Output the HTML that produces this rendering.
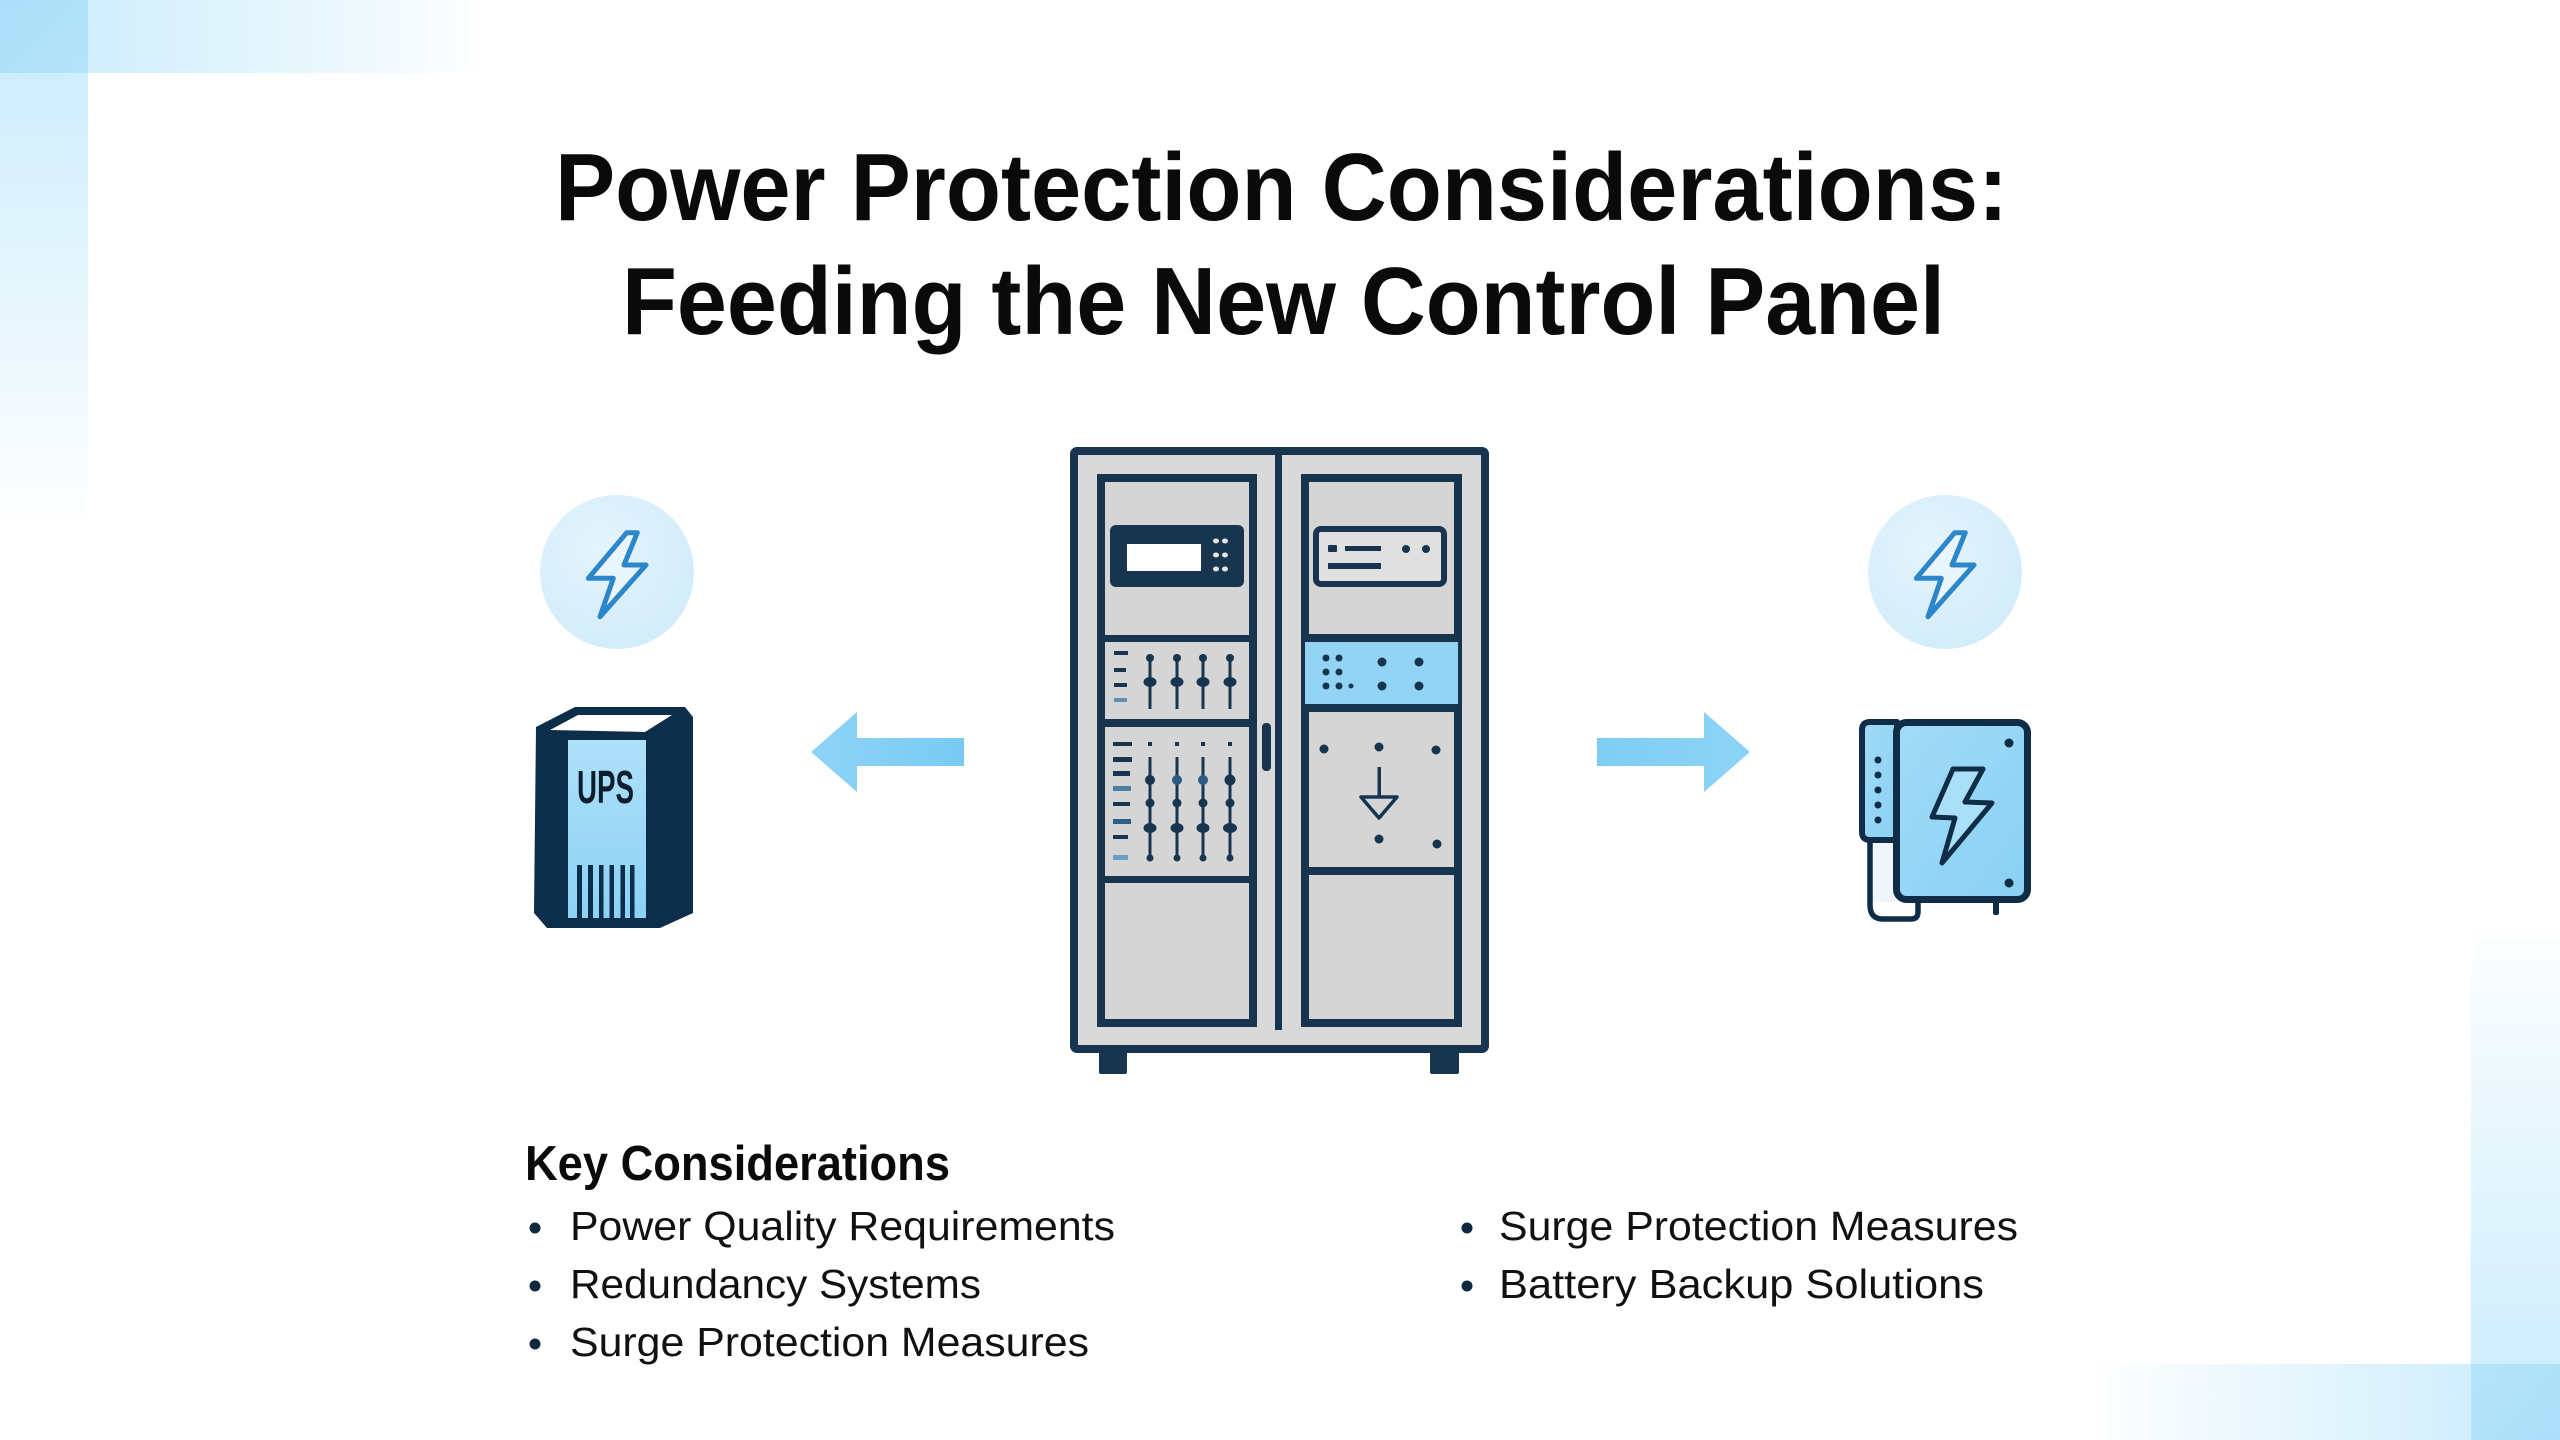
<!DOCTYPE html>
<html>
<head>
<meta charset="utf-8">
<style>
  html, body { margin: 0; padding: 0; background: #ffffff; }
  body { width: 2560px; height: 1440px; overflow: hidden; }
  svg { display: block; }
  .t { font-family: "Liberation Sans", "DejaVu Sans", sans-serif; }
</style>
</head>
<body>
<svg width="2560" height="1440" viewBox="0 0 2560 1440" xmlns="http://www.w3.org/2000/svg">
  <defs>
    <linearGradient id="tlH" x1="0" y1="0" x2="1" y2="0">
      <stop offset="0" stop-color="#8fd6f7" stop-opacity="0.5"/>
      <stop offset="0.6" stop-color="#8fd6f7" stop-opacity="0.22"/>
      <stop offset="1" stop-color="#8fd6f7" stop-opacity="0"/>
    </linearGradient>
    <linearGradient id="tlV" x1="0" y1="0" x2="0" y2="1">
      <stop offset="0" stop-color="#8fd6f7" stop-opacity="0.5"/>
      <stop offset="0.6" stop-color="#8fd6f7" stop-opacity="0.2"/>
      <stop offset="1" stop-color="#8fd6f7" stop-opacity="0"/>
    </linearGradient>
    <linearGradient id="brH" x1="1" y1="0" x2="0" y2="0">
      <stop offset="0" stop-color="#8fd6f7" stop-opacity="0.5"/>
      <stop offset="0.6" stop-color="#8fd6f7" stop-opacity="0.2"/>
      <stop offset="1" stop-color="#8fd6f7" stop-opacity="0"/>
    </linearGradient>
    <linearGradient id="brV" x1="0" y1="1" x2="0" y2="0">
      <stop offset="0" stop-color="#8fd6f7" stop-opacity="0.5"/>
      <stop offset="0.6" stop-color="#8fd6f7" stop-opacity="0.2"/>
      <stop offset="1" stop-color="#8fd6f7" stop-opacity="0"/>
    </linearGradient>
    <radialGradient id="circ" cx="0.4" cy="0.35" r="0.7">
      <stop offset="0" stop-color="#e4f4fd"/>
      <stop offset="1" stop-color="#d2ecfa"/>
    </radialGradient>
    <linearGradient id="upsStrip" x1="0" y1="0" x2="0" y2="1">
      <stop offset="0" stop-color="#aee0f8"/>
      <stop offset="1" stop-color="#8cd2f5"/>
    </linearGradient>
    <linearGradient id="devFill" x1="0" y1="0" x2="1" y2="1">
      <stop offset="0" stop-color="#a2dbf7"/>
      <stop offset="1" stop-color="#89d0f4"/>
    </linearGradient>
    <linearGradient id="arrL" x1="0" y1="0" x2="1" y2="0">
      <stop offset="0" stop-color="#8fd4f6"/>
      <stop offset="1" stop-color="#78caf3"/>
    </linearGradient>
    <linearGradient id="arrR" x1="0" y1="0" x2="1" y2="0">
      <stop offset="0" stop-color="#7fcdf4"/>
      <stop offset="1" stop-color="#8dd3f6"/>
    </linearGradient>
  </defs>

  <!-- background corner decorations -->
  <rect x="0" y="0" width="490" height="73" fill="url(#tlH)"/>
  <rect x="0" y="0" width="88" height="528" fill="url(#tlV)"/>
  <rect x="2087" y="1364" width="473" height="76" fill="url(#brH)"/>
  <rect x="2471" y="916" width="89" height="524" fill="url(#brV)"/>

  <!-- Title -->
  <text class="t" x="555" y="220" font-size="96" font-weight="bold" fill="#0a0a0a" textLength="1453" lengthAdjust="spacingAndGlyphs">Power Protection Considerations:</text>
  <text class="t" x="622" y="334" font-size="96" font-weight="bold" fill="#0a0a0a" textLength="1323" lengthAdjust="spacingAndGlyphs">Feeding the New Control Panel</text>

  <!-- Left circle + bolt -->
  <circle cx="617" cy="572" r="77" fill="url(#circ)"/>
  <path d="M626.7,532.7 L637.3,532.7 L624,565 L646,565 L600,616.7 L613.3,578.3 L588.3,578.3 Z" fill="#eaf6fd" stroke="#2b87c9" stroke-width="5" stroke-linejoin="round"/>

  <!-- Right circle + bolt -->
  <circle cx="1945" cy="572" r="77" fill="url(#circ)"/>
  <path transform="translate(1328,0)" d="M626.7,532.7 L637.3,532.7 L624,565 L646,565 L600,616.7 L613.3,578.3 L588.3,578.3 Z" fill="#eaf6fd" stroke="#2b87c9" stroke-width="5" stroke-linejoin="round"/>

  <!-- UPS -->
  <path d="M536,727 L575,707 L685,707 L693,717 L693,913 L660,928 L547,928 L534,913 Z" fill="#0c2e4b"/>
  <path d="M550,730 L578,715 L672,715 L645,732 Z" fill="#ffffff"/>
  <rect x="568" y="740" width="78" height="178" fill="url(#upsStrip)"/>
  <text class="t" x="577" y="803" font-size="46" font-weight="bold" fill="#0a1e30" textLength="57" lengthAdjust="spacingAndGlyphs">UPS</text>
  <g fill="#0c2e4b">
    <rect x="577" y="865" width="5" height="53"/>
    <rect x="588" y="865" width="5" height="53"/>
    <rect x="599" y="865" width="4.5" height="53"/>
    <rect x="609.5" y="865" width="4.5" height="53"/>
    <rect x="620.5" y="865" width="4.5" height="53"/>
    <rect x="630" y="865" width="4.5" height="53"/>
  </g>

  <!-- Arrows -->
  <polygon points="811,752 857,712 857,738 964,738 964,766 857,766 857,792" fill="url(#arrL)"/>
  <polygon points="1750,752 1704,712 1704,738 1597,738 1597,766 1704,766 1704,792" fill="url(#arrR)"/>

  <!-- Cabinet -->
  <g>
    <!-- feet -->
    <rect x="1099" y="1046" width="28" height="28" rx="2" fill="#17354f"/>
    <rect x="1430" y="1046" width="29" height="28" rx="2" fill="#17354f"/>
    <!-- body -->
    <rect x="1074" y="451" width="411" height="598" rx="3" fill="#d9d9d9" stroke="#17354f" stroke-width="8"/>
    <!-- center divider -->
    <rect x="1275" y="452" width="7" height="578" fill="#17354f"/>
    <!-- handle -->
    <rect x="1262" y="723" width="9" height="48" rx="4" fill="#17354f"/>

    <!-- left panel -->
    <rect x="1101" y="478" width="152" height="545" fill="#d5d5d5" stroke="#17354f" stroke-width="8"/>
    <rect x="1097" y="635" width="160" height="7" fill="#17354f"/>
    <rect x="1097" y="719" width="160" height="8" fill="#17354f"/>
    <rect x="1097" y="876" width="160" height="7" fill="#17354f"/>

    <!-- right panel -->
    <rect x="1305" y="478" width="153" height="545" fill="#d5d5d5" stroke="#17354f" stroke-width="8"/>
    <rect x="1305" y="641" width="153" height="63" fill="#93d4f5"/>
    <rect x="1301" y="634" width="161" height="8" fill="#17354f"/>
    <rect x="1301" y="704" width="161" height="8" fill="#17354f"/>
    <rect x="1301" y="867" width="161" height="8" fill="#17354f"/>

    <!-- left top display -->
    <rect x="1110" y="525" width="134" height="62" rx="6" fill="#17354f"/>
    <rect x="1127" y="544" width="74" height="27" fill="#ffffff"/>
    <g fill="#e6e6e6">
      <ellipse cx="1216" cy="541" rx="3" ry="2.5"/>
      <ellipse cx="1225" cy="541" rx="3" ry="2.5"/>
      <ellipse cx="1216" cy="555" rx="3" ry="2.5"/>
      <ellipse cx="1225" cy="555" rx="3" ry="2.5"/>
      <ellipse cx="1216" cy="569" rx="3" ry="2.5"/>
      <ellipse cx="1225" cy="569" rx="3" ry="2.5"/>
    </g>

    <!-- right top device -->
    <rect x="1316" y="529" width="128" height="55" rx="5" fill="#e0e0e0" stroke="#17354f" stroke-width="6"/>
    <g fill="#17354f">
      <rect x="1328" y="545" width="9" height="7" rx="1"/>
      <rect x="1345" y="546" width="36" height="5"/>
      <rect x="1328" y="563" width="53" height="6"/>
      <circle cx="1406" cy="549" r="4"/>
      <circle cx="1426" cy="549" r="4"/>
    </g>

    <!-- left section 2: faders -->
    <g fill="#17354f">
      <rect x="1114" y="651" width="14" height="4"/>
      <rect x="1114" y="668" width="12" height="4"/>
      <rect x="1114" y="683" width="13" height="4"/>
      <rect x="1114" y="698" width="13" height="4" fill="#5f8fb3"/>
      <g>
        <rect x="1148.5" y="656" width="3" height="53"/>
        <circle cx="1150" cy="658" r="4"/>
        <ellipse cx="1150" cy="682" rx="6.5" ry="5"/>
        <rect x="1175.5" y="656" width="3" height="53"/>
        <circle cx="1177" cy="658" r="4"/>
        <ellipse cx="1177" cy="682" rx="6.5" ry="5"/>
        <rect x="1201.5" y="656" width="3" height="53"/>
        <circle cx="1203" cy="658" r="4"/>
        <ellipse cx="1203" cy="682" rx="6.5" ry="5"/>
        <rect x="1228.5" y="656" width="3" height="53"/>
        <circle cx="1230" cy="658" r="4"/>
        <ellipse cx="1230" cy="682" rx="6.5" ry="5"/>
      </g>
    </g>

    <!-- left section 3: faders -->
    <g fill="#17354f">
      <rect x="1113" y="742" width="19" height="4"/>
      <rect x="1113" y="757" width="19" height="5"/>
      <rect x="1113" y="771" width="17" height="5"/>
      <rect x="1113" y="786" width="18" height="5" fill="#4d7ea3"/>
      <rect x="1113" y="802" width="17" height="4"/>
      <rect x="1113" y="819" width="18" height="5" fill="#2e5f86"/>
      <rect x="1113" y="835" width="15" height="4"/>
      <rect x="1113" y="855" width="15" height="5" fill="#6a9fc4"/>
      <rect x="1148" y="742" width="4" height="4"/>
      <rect x="1175" y="742" width="4" height="4"/>
      <rect x="1201" y="742" width="4" height="4"/>
      <rect x="1228" y="742" width="4" height="4"/>
      <rect x="1148.5" y="757" width="3" height="103"/>
      <rect x="1175.5" y="757" width="3" height="103"/>
      <rect x="1201.5" y="757" width="3" height="103"/>
      <rect x="1228.5" y="757" width="3" height="103"/>
      <circle cx="1150" cy="780" r="5"/>
      <circle cx="1177" cy="780" r="5" fill="#2d5a86"/>
      <circle cx="1203" cy="780" r="5" fill="#2d5a86"/>
      <circle cx="1230" cy="780" r="5.5"/>
      <circle cx="1150" cy="803" r="4.5"/>
      <circle cx="1177" cy="803" r="4.5"/>
      <circle cx="1203" cy="803" r="4.5"/>
      <circle cx="1230" cy="803" r="4.5"/>
      <ellipse cx="1150" cy="828" rx="6.5" ry="5"/>
      <ellipse cx="1177" cy="828" rx="6.5" ry="5"/>
      <ellipse cx="1203" cy="828" rx="6.5" ry="5"/>
      <ellipse cx="1230" cy="828" rx="7" ry="5"/>
      <circle cx="1150" cy="858" r="3.5"/>
      <circle cx="1177" cy="858" r="3.5"/>
      <circle cx="1203" cy="858" r="3.5"/>
      <circle cx="1230" cy="858" r="3.5"/>
    </g>

    <!-- right blue section dots -->
    <g fill="#17354f">
      <circle cx="1326" cy="658" r="3.5"/>
      <circle cx="1339" cy="658" r="3.5"/>
      <circle cx="1326" cy="672" r="3.5"/>
      <circle cx="1339" cy="672" r="3.5"/>
      <circle cx="1326" cy="686" r="3.5"/>
      <circle cx="1339" cy="686" r="3.5"/>
      <circle cx="1351" cy="686" r="2.5"/>
      <circle cx="1382" cy="662" r="4.5"/>
      <circle cx="1419" cy="662" r="4.5"/>
      <circle cx="1382" cy="686" r="4.5"/>
      <circle cx="1419" cy="686" r="4.5"/>
    </g>

    <!-- right section 3 -->
    <g fill="#17354f">
      <circle cx="1324" cy="749" r="4.5"/>
      <circle cx="1379" cy="747" r="4.5"/>
      <circle cx="1436" cy="750" r="4.5"/>
      <circle cx="1379" cy="839" r="4.5"/>
      <circle cx="1437" cy="844" r="4.5"/>
      <rect x="1377.5" y="767" width="3.5" height="30"/>
    </g>
    <path d="M1361,797 L1397,797 L1379,818 Z" fill="#d5d5d5" stroke="#17354f" stroke-width="3.5" stroke-linejoin="round"/>
  </g>

  <!-- Right device -->
  <g>
    <rect x="1868" y="840" width="27" height="62" fill="#eef6fb"/>
    <path d="M1870,838 L1870,905 Q1870,919 1883,919 L1911,919 Q1918,919 1918,912 L1918,902" fill="none" stroke="#0f2d46" stroke-width="5.5" stroke-linejoin="round"/>
    <path d="M1897,722 L1870,722 Q1862,722 1862,730 L1862,832 Q1862,840 1870,840 L1897,840 Z" fill="url(#devFill)" stroke="#0f2d46" stroke-width="6" stroke-linejoin="round"/>
    <g fill="#0f2d46">
      <circle cx="1878" cy="760" r="3.5"/>
      <circle cx="1878" cy="775" r="3.5"/>
      <circle cx="1878" cy="790" r="3.5"/>
      <circle cx="1878" cy="805" r="3.5"/>
      <circle cx="1878" cy="820" r="3.5"/>
    </g>
    <rect x="1896.5" y="722.5" width="131" height="177" rx="10" fill="url(#devFill)" stroke="#0f2d46" stroke-width="7"/>
    <rect x="1993" y="900" width="6" height="15" rx="2" fill="#0f2d46"/>
    <circle cx="2009" cy="743" r="4.5" fill="#0f2d46"/>
    <circle cx="2009" cy="883" r="4.5" fill="#0f2d46"/>
    <path d="M1953,769 L1983,769 L1965,802 L1992,803 L1942,863 L1955,818 L1932,817 Z" fill="#a9dff9" stroke="#0f2d46" stroke-width="5" stroke-linejoin="round"/>
  </g>

  <!-- Key considerations -->
  <text class="t" x="525" y="1180" font-size="49" font-weight="bold" fill="#0a0a0a" textLength="425" lengthAdjust="spacingAndGlyphs">Key Considerations</text>

  <g fill="#0f2a40">
    <circle cx="535" cy="1228" r="5.5"/>
    <circle cx="535" cy="1286" r="5.5"/>
    <circle cx="535" cy="1344" r="5.5"/>
    <circle cx="1467" cy="1228" r="5.5"/>
    <circle cx="1467" cy="1286" r="5.5"/>
  </g>
  <g class="t" font-size="41" fill="#111111">
    <text x="570" y="1240" textLength="545" lengthAdjust="spacingAndGlyphs">Power Quality Requirements</text>
    <text x="570" y="1298" textLength="411" lengthAdjust="spacingAndGlyphs">Redundancy Systems</text>
    <text x="570" y="1356" textLength="519" lengthAdjust="spacingAndGlyphs">Surge Protection Measures</text>
    <text x="1499" y="1240" textLength="519" lengthAdjust="spacingAndGlyphs">Surge Protection Measures</text>
    <text x="1499" y="1298" textLength="485" lengthAdjust="spacingAndGlyphs">Battery Backup Solutions</text>
  </g>
</svg>
</body>
</html>
